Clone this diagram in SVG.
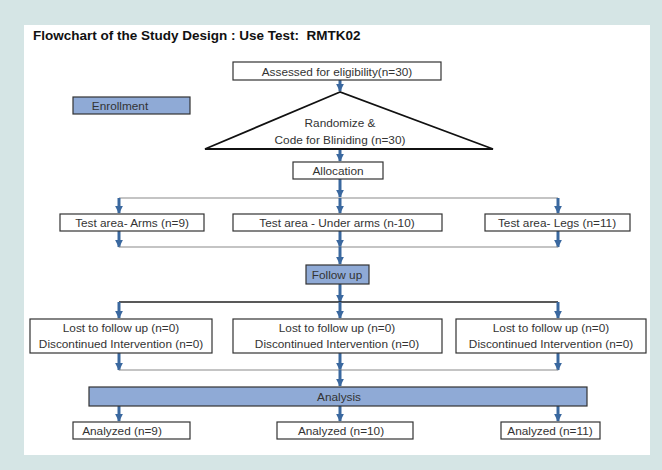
<svg xmlns="http://www.w3.org/2000/svg" width="662" height="470" viewBox="0 0 662 470">
<style>
text{font-family:"Liberation Sans",Arial,sans-serif;font-size:11.8px;fill:#333;text-anchor:middle}
.title{font-size:13.5px;font-weight:bold;fill:#111;text-anchor:start}
.box{fill:#fff;stroke:#333;stroke-width:1.2}
.blue{fill:#8faad6;stroke:#333;stroke-width:1.2}
.arr{stroke:#3a689f;stroke-width:3;fill:none;marker-end:url(#ah)}
.gl{stroke:#8a8a8a;stroke-width:1.2;fill:none}
.bl{stroke:#222;stroke-width:1.5;fill:none}
</style>
<defs>
<marker id="ah" viewBox="0 0 10 10" refX="9" refY="5" markerWidth="2.6" markerHeight="2.6" orient="auto" markerUnits="strokeWidth">
<path d="M0,0 L10,5 L0,10 z" fill="#3a689f"/>
</marker>
</defs>
<rect x="0" y="0" width="662" height="470" fill="#d5e5e5"/>
<rect x="24" y="25" width="626" height="430" fill="#fff"/>
<text class="title" x="33" y="40" xml:space="preserve">Flowchart of the Study Design : Use Test:  RMTK02</text>

<g id="connectors">
<path class="arr" d="M340,80 V91"/>
<path class="arr" d="M340,149 V161"/>
<path class="arr" d="M340,179 V197"/>
<path class="gl" d="M119,198 H558"/>
<path class="arr" d="M119,198 V213"/>
<path class="arr" d="M340,198 V213"/>
<path class="arr" d="M558,198 V213"/>
<path class="arr" d="M119,231 V247"/>
<path class="arr" d="M340,231 V247"/>
<path class="arr" d="M558,231 V247"/>
<path class="gl" d="M119,247 H558"/>
<path class="arr" d="M340,247 V264"/>
<path class="arr" d="M340,284 V302"/>
<path class="bl" d="M119,302 H558"/>
<path class="arr" d="M119,302 V318"/>
<path class="arr" d="M340,302 V318"/>
<path class="arr" d="M558,302 V318"/>
<path class="arr" d="M119,353 V370"/>
<path class="arr" d="M340,353 V370"/>
<path class="arr" d="M558,353 V370"/>
<path class="gl" d="M119,370 H558"/>
<path class="arr" d="M340,370 V386"/>
<path class="arr" d="M119,406 V421"/>
<path class="arr" d="M340,406 V421"/>
<path class="arr" d="M558,406 V421"/>
</g>

<g id="assessed"><rect class="box" x="233" y="62" width="208" height="18"/><text x="337" y="75.5">Assessed for eligibility(n=30)</text></g>
<g id="enrollment"><rect class="blue" x="73" y="97" width="117" height="17"/><text x="120" y="110">Enrollment</text></g>
<g id="randomize"><path d="M340,92 L205,149 L493,149 Z" fill="#fff" stroke="#111" stroke-width="1.8" stroke-linejoin="miter"/><text x="340" y="127">Randomize &amp;</text><text x="340" y="144">Code for Bliniding (n=30)</text></g>
<g id="allocation"><rect class="box" x="293" y="162" width="90" height="17"/><text x="338" y="175">Allocation</text></g>
<g id="arms"><rect class="box" x="60" y="214" width="144" height="17"/><text x="132" y="227">Test area- Arms (n=9)</text></g>
<g id="underarms"><rect class="box" x="233" y="214" width="209" height="17"/><text x="337" y="227">Test area - Under arms (n-10)</text></g>
<g id="legs"><rect class="box" x="485" y="214" width="145" height="17"/><text x="557" y="227">Test area- Legs (n=11)</text></g>
<g id="followup"><rect class="blue" x="306" y="265" width="63" height="19"/><text x="337" y="279">Follow up</text></g>
<g id="lost1"><rect class="box" x="30" y="319" width="182" height="34"/><text x="121" y="331.5">Lost to follow up (n=0)</text><text x="121" y="347.5">Discontinued Intervention (n=0)</text></g>
<g id="lost2"><rect class="box" x="233" y="319" width="209" height="34"/><text x="337" y="331.5">Lost to follow up (n=0)</text><text x="337" y="347.5">Discontinued Intervention (n=0)</text></g>
<g id="lost3"><rect class="box" x="456" y="319" width="190" height="34"/><text x="551" y="331.5">Lost to follow up (n=0)</text><text x="551" y="347.5">Discontinued Intervention (n=0)</text></g>
<g id="analysis"><rect class="blue" x="89" y="387" width="498" height="19"/><text x="339" y="401">Analysis</text></g>
<g id="analyzed1"><rect class="box" x="73" y="422" width="117" height="17"/><text x="122" y="435">Analyzed (n=9)</text></g>
<g id="analyzed2"><rect class="box" x="277" y="422" width="136" height="17"/><text x="341" y="435">Analyzed (n=10)</text></g>
<g id="analyzed3"><rect class="box" x="501" y="422" width="99" height="17"/><text x="550" y="435">Analyzed (n=11)</text></g>
</svg>
